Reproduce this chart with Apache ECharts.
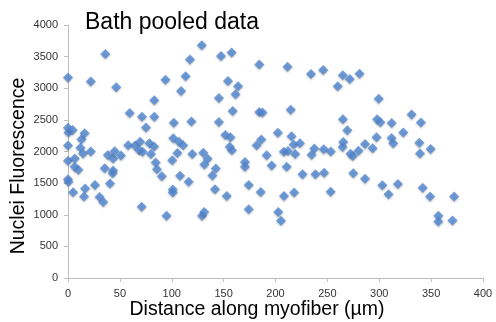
<!DOCTYPE html>
<html>
<head>
<meta charset="utf-8">
<script src="https://cdn.jsdelivr.net/npm/echarts@6/dist/echarts.min.js"></script>
<style>
  html, body { margin: 0; padding: 0; background: #fff; }
  #chart { width: 496px; height: 322px; }
</style>
</head>
<body>
<div id="chart"></div>
<script>
// distance along myofiber (um) and nuclei fluorescence
const distance = [
  0, 0, 0.5, 4.5, 0, 0, 0, 0.5, 5, 6.5,
  6.5, 10, 13, 16, 12, 14.5, 22, 22, 16.5, 15.5,
  26, 30.5, 34, 36, 35.5, 38.5, 40.5, 43.5, 45, 43.5,
  43, 46.5, 51, 59.5, 58, 64.5, 69.5, 68.7, 72, 71.3,
  75.2, 71, 78.5, 83, 80, 83.2, 83.2, 84.5, 85.8, 90.5,
  94, 95, 101.5, 107, 111, 105.5, 100.5, 102, 109, 113.4,
  117.6, 119, 119.8, 108, 116.3, 101, 101, 129, 130.4, 134.6,
  131.5, 142.5, 139.2, 141.7, 153, 129.2, 131.3, 145.5, 145.5, 147.5,
  157.7, 154.2, 164, 161.5, 158.8, 151.7, 156.6, 155.9, 158, 170.6,
  170.6, 174.2, 174.2, 184.4, 184.4, 187.5, 186.3, 181.9, 191.5, 196.3,
  185.8, 211.6, 214.7, 202.3, 215.5, 217.5, 223.6, 208, 212, 219,
  210.8, 208.2, 218, 202.7, 205.3, 226.1, 234.2, 246, 237.5, 234.8,
  246.5, 253.3, 238.5, 246.9, 253.2, 260, 264.9, 271.6, 281, 265,
  269.2, 265.3, 264.7, 272.3, 274.6, 280, 286.3, 293.6, 297.4, 275,
  286.3, 299.5, 298, 301, 312, 311.9, 313.5, 323.2, 331.2, 340.2,
  338.7, 339.3, 349.6, 303, 309, 318, 341.9, 349, 372.2, 357,
  357, 370.6
];
const fluorescence = [
  3170, 2375, 2300, 2340, 2095, 1855, 1560, 1520, 1355, 1890,
  1760, 1710, 2195, 2290, 2060, 1970, 2000, 3105, 1415, 1290,
  1470, 1280, 1200, 3540, 1735, 1945, 1495, 1890, 2005, 1700,
  1655, 3015, 1935, 2610, 2100, 2095, 2155, 2020, 1995, 2550,
  2380, 1125, 2130, 2080, 1960, 2550, 2810, 1825, 1720, 1610,
  3135, 985, 2210, 2155, 2100, 1975, 1860, 2455, 2955, 3190,
  3455, 2475, 1960, 1615, 1520, 1400, 1350, 3680, 1980, 1885,
  1795, 1730, 1620, 1405, 1295, 985, 1045, 2845, 2465, 3510,
  3565, 3115, 3030, 2905, 2640, 2260, 2225, 2075, 2020, 1835,
  1760, 1470, 1085, 3375, 2625, 2615, 2190, 2100, 1940, 1780,
  1360, 3340, 2662, 2298, 2240, 2110, 2130, 1995, 2008, 1960,
  1760, 1295, 1352, 1045, 905, 1640, 3225, 3290, 2048, 1947,
  2035, 2000, 1640, 1665, 1365, 3030, 3205, 3145, 3230, 2510,
  2335, 2150, 2070, 1965, 1930, 2010, 2120, 2050, 2225, 1655,
  1570, 2835, 2510, 2462, 2450, 2215, 2130, 2300, 2585, 2460,
  2140, 1970, 2038, 1465, 1325, 1488, 1425, 1290, 1288, 985,
  892, 908
];

const chart = echarts.init(document.getElementById('chart'));
const font = '"Liberation Sans", Arial, Helvetica, sans-serif';

chart.setOption({
  animation: false,
  textStyle: { fontFamily: font },
  grid: { left: 68, right: 13, top: 25, bottom: 44 },
  title: {
    text: 'Bath pooled data',
    left: 80,
    top: 6,
    textStyle: { fontSize: 23, fontWeight: 'normal', color: '#000', fontFamily: font }
  },
  xAxis: {
    type: 'value',
    min: 0,
    max: 400,
    interval: 50,
    splitLine: { show: false },
    axisLine: { lineStyle: { color: '#bfbfbf' } },
    axisTick: { length: 4, lineStyle: { color: '#bfbfbf' } },
    axisLabel: { fontSize: 11, color: '#333', margin: 10, formatter: (v) => String(v) }
  },
  yAxis: {
    type: 'value',
    min: 0,
    max: 4000,
    interval: 500,
    splitLine: { show: false },
    axisLine: { show: true, lineStyle: { color: '#bfbfbf' } },
    axisTick: { show: true, length: 4, lineStyle: { color: '#bfbfbf' } },
    axisLabel: { fontSize: 11, color: '#333', margin: 10, formatter: (v) => String(v) }
  },
  graphic: [
    {
      type: 'text',
      x: 19,
      y: 166,
      rotation: Math.PI / 2,
      style: {
        text: 'Nuclei Fluorescence',
        fontSize: 19.5,
        fontFamily: font,
        fill: '#000',
        align: 'center',
        verticalAlign: 'middle'
      }
    },
    {
      type: 'text',
      x: 257,
      y: 310,
      style: {
        text: 'Distance along myofiber (\u00b5m)',
        fontSize: 19.5,
        fontFamily: font,
        fill: '#000',
        align: 'center',
        verticalAlign: 'middle'
      }
    }
  ],
  series: [
    {
      type: 'scatter',
      data: distance.map((d, i) => [d, fluorescence[i]]),
      symbol: 'diamond',
      symbolSize: 10,
      itemStyle: {
        color: '#5389d4',
        shadowBlur: 2,
        shadowOffsetY: 1,
        shadowColor: 'rgba(0,0,0,0.35)'
      }
    }
  ]
});
</script>
</body>
</html>
